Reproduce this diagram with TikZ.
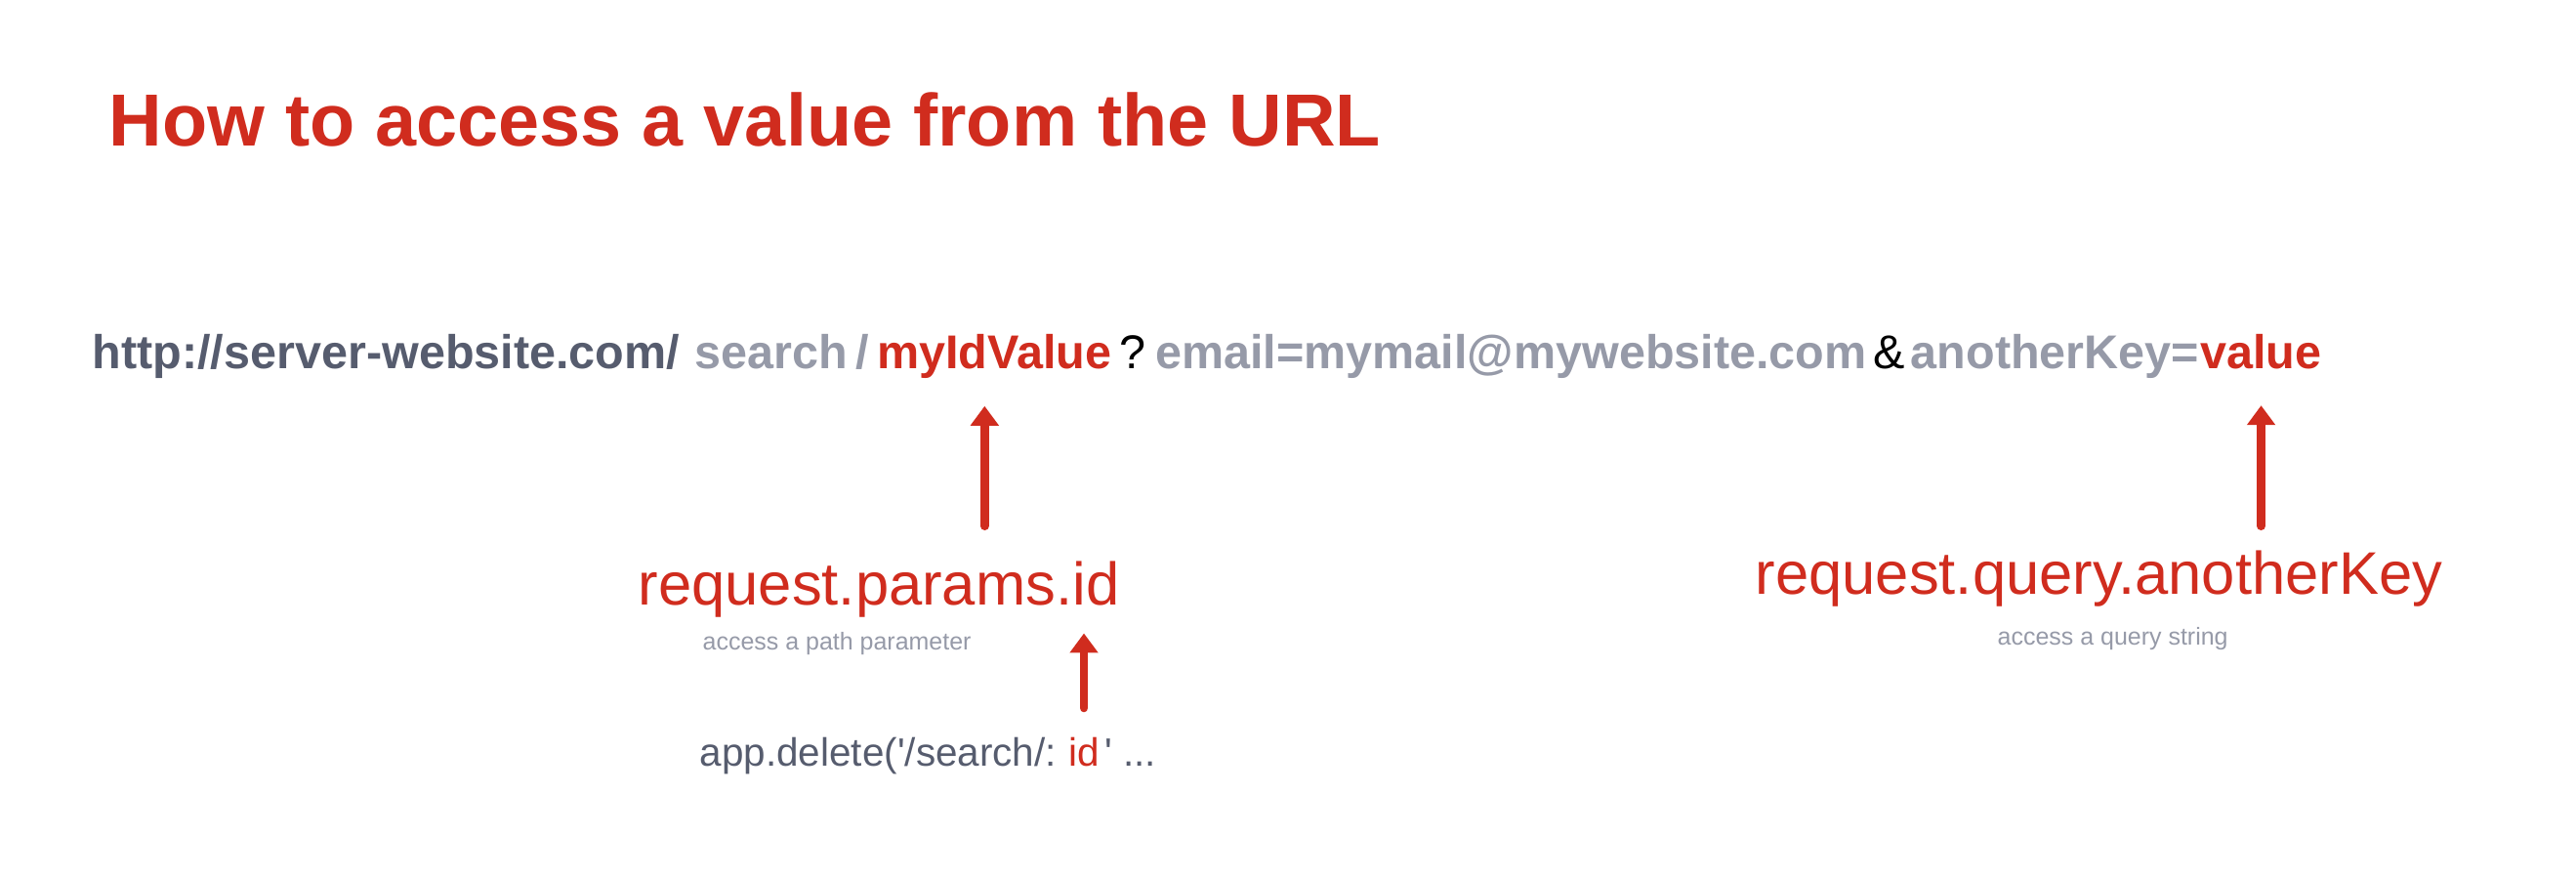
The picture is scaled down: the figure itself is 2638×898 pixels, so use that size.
\documentclass[tikz,border=0pt]{standalone}
\usepackage{fontspec}
\setmainfont{Liberation Sans}
\usepackage{xcolor}
\usetikzlibrary{arrows.meta, positioning}

\definecolor{urlred}{RGB}{208,44,30}
\definecolor{slate}{RGB}{86,92,110}
\definecolor{greyblue}{RGB}{150,154,168}

\begin{document}
\begin{tikzpicture}[
  x=0.01cm, y=-0.01cm,
  heading/.style={font=\fontsize{21.5}{24}\selectfont\bfseries, text=urlred, inner sep=0pt, anchor=base west},
  urlpart/.style={font=\fontsize{13.8}{16}\selectfont\bfseries, inner sep=0pt},
  sep/.style={font=\fontsize{13.8}{16}\selectfont, text=black, inner sep=0pt},
  callname/.style={font=\fontsize{17.5}{20}\selectfont, text=urlred, inner sep=0pt, anchor=base west},
  hint/.style={font=\fontsize{7.1}{8}\selectfont, text=greyblue, inner sep=0pt, anchor=base west},
  code/.style={font=\fontsize{11.5}{13}\selectfont, text=slate, inner sep=0pt},
  arr/.style={-{Triangle[length=0.2cm, width=0.28cm]}, line width=0.087cm, draw=urlred, line cap=round}
]
  \useasboundingbox (0,0) rectangle (2638,898);

  \node[heading] (title) at (111,150) {How to access a value from the URL};

  % the URL, piece by piece
  \node[urlpart, text=slate, anchor=base west] (host) at (94,378) {http://server-website.com/};
  \node[urlpart, text=greyblue, base right=0.14cm of host] (path) {search};
  \node[urlpart, text=greyblue, base right=0.07cm of path] (slash) {/};
  \node[urlpart, text=urlred, base right=0.07cm of slash] (myid) {myIdValue};
  \node[sep, base right=0.07cm of myid] (qmark) {?};
  \node[urlpart, text=greyblue, base right=0.08cm of qmark] (email) {email=mymail@mywebsite.com};
  \node[sep, base right=0.05cm of email] (amp) {\&};
  \node[urlpart, text=greyblue, base right=0.05cm of amp] (key) {anotherKey=};
  \node[urlpart, text=urlred, base right=0cm of key] (value) {value};

  % how to read it
  \node[callname] (params) at (653,620) {request.params.id};
  \node[hint] (pathhint) at (719,666) {access a path parameter};
  \node[callname] (query) at (1797,609) {request.query.anotherKey};
  \node[hint] (queryhint) at (2045,661) {access a query string};

  \node[code, anchor=base west] (appcall) at (716,785) {app.delete(\textquotesingle/search/:};
  \node[code, text=urlred, base right=0.11cm of appcall] (appid) {id};
  \node[code, base right=0.04cm of appid] (apptail) {\textquotesingle\ ...};

  \coordinate (idpin) at ([xshift=-0.1cm]myid.south);
  \draw[arr, shorten <=0.36cm, shorten >=0.27cm] (idpin |- params.north) -- (idpin);
  \draw[arr, shorten <=0.25cm, shorten >=0.36cm] (value.south |- query.north) -- (value.south);
  \draw[arr, shorten <=0.3cm, shorten >=0.15cm] (appid.north) -- (appid.north |- params.south);
\end{tikzpicture}
\end{document}
